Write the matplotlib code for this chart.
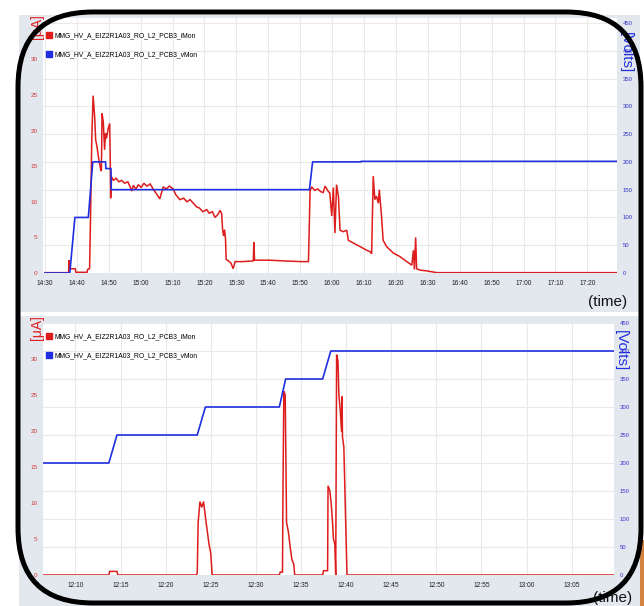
import matplotlib
matplotlib.use('Agg')
import matplotlib.pyplot as plt
import matplotlib.dates as mdates
from matplotlib.lines import Line2D
from matplotlib.patches import Rectangle, FancyBboxPatch
from matplotlib.ticker import FixedLocator
import numpy as np
import pandas as pd

W, H = 644, 606
plt.rcParams['font.family'] = ['Liberation Sans Narrow', 'Liberation Sans', 'DejaVu Sans']

i_name = 'MMG_HV_A_EIZ2R1A03_RO_L2_PCB3_iMon'
v_name = 'MMG_HV_A_EIZ2R1A03_RO_L2_PCB3_vMon'

# first ramp, minutes after 14:30
run1_base = '2023-05-10 14:30'
run1_range = [-0.6, 179.3]
run1_v_t = [0, 7.8, 9.4, 13.6, 15.0, 19.0, 19.1, 20.7, 20.8, 82.9, 83.9, 99.0, 99.1, 179.3]
run1_v = [0, 0, 100, 100, 200, 200, 188, 188, 150, 150, 200, 200, 201, 201]
run1_i_t = [0, 7.4, 7.6, 7.8, 9.5, 9.7, 13.2, 13.4, 14.0, 14.3, 14.7, 15.1, 15.6, 15.9,
            16.3, 16.9, 17.5, 17.7, 17.9, 18.3, 18.7, 19.0, 19.3, 19.8, 20.3, 20.5, 20.6,
            20.9, 21.5, 22.3, 23.2, 24.0, 25.0, 26.0, 26.6, 27.2, 27.7, 28.5, 29.3, 30.2,
            31.0, 32.0, 33.0, 33.9, 34.7, 35.3, 36.0, 36.5, 37.1, 38.0, 39.0, 40.2, 41.0,
            42.3, 43.5, 44.5, 45.5, 46.5, 47.5, 48.5, 49.5, 50.7, 51.5, 52.5, 53.3, 54.2,
            54.9, 55.4, 55.7, 56.0, 56.3, 56.6, 56.8, 57.5, 58.3, 59.0, 59.6, 62.0, 65.3,
            65.5, 65.7, 70.0, 75.0, 80.0, 82.6, 83.1, 83.6, 84.5, 85.5, 86.5, 87.2, 87.8,
            88.6, 89.3, 89.9, 90.4, 90.9, 91.4, 92.0, 92.5, 93.5, 94.6, 95.1, 96.7, 98.8,
            100.8, 101.9, 102.4, 102.9, 103.4, 103.9, 104.5, 104.8, 105.5, 106.0, 107.1,
            109.2, 111.3, 113.4, 115.0, 115.5, 115.8, 116.2, 116.5, 117.6, 119.6, 122.8,
            179.3]
run1_i = [0.05, 0.05, 1.8, 0.6, 0.6, 0.1, 0.1, 0.5, 0.6, 8.0, 19.0, 24.9, 21.9, 18.7,
          17.8, 15.9, 14.5, 14.3, 22.4, 21.2, 17.3, 19.6, 18.9, 20.2, 21.0, 15.0, 10.5,
          13.5, 13.0, 13.3, 12.8, 13.0, 12.6, 12.8, 12.2, 11.5, 12.3, 11.8, 12.4, 12.0,
          12.6, 12.2, 12.5, 11.8, 11.3, 10.9, 10.4, 11.2, 12.1, 11.8, 12.2, 11.8, 11.0,
          10.3, 10.5, 10.0, 10.3, 9.8, 9.3, 9.1, 8.6, 8.9, 8.4, 8.6, 7.8, 8.2,
          8.8, 8.3, 6.0, 5.2, 6.1, 4.8, 1.9, 1.7, 1.4, 0.6, 1.6, 1.6, 1.7,
          4.3, 1.8, 1.8, 1.7, 1.6, 1.6, 11.5, 12.1, 11.6, 11.8, 11.4, 11.3, 12.2,
          11.6, 11.2, 8.0, 12.0, 5.6, 12.4, 10.7, 6.0, 5.8, 6.0, 4.6, 4.2, 3.7,
          3.2, 3.0, 2.7, 13.6, 10.3, 10.8, 9.8, 11.7, 8.0, 4.6, 3.7,
          2.8, 2.3, 1.6, 1.1, 3.2, 0.5, 5.0, 0.6, 0.4, 0.3, 0.05,
          0.05]

# second ramp, minutes after 12:00
run2_base = '2023-05-11 12:00'
run2_range = [6.4, 69.7]
run2_v_t = [6.4, 13.7, 14.6, 23.5, 24.4, 32.6, 33.3, 37.4, 38.3, 69.7]
run2_v = [200, 200, 250, 250, 300, 300, 350, 350, 400, 400]
run2_i_t = [6.4, 13.7, 13.8, 14.6, 14.7, 23.4, 23.5, 23.6, 23.8, 24.0, 24.2, 24.4, 24.6,
            24.8, 25.0, 25.15, 32.6, 32.7, 32.95, 33.0, 33.1, 33.25, 33.4, 33.6, 33.8,
            34.0, 34.2, 34.3, 37.4, 37.5, 37.95, 38.0, 38.2, 38.35, 38.5, 38.6, 38.75,
            38.85, 38.95, 39.1, 39.2, 39.35, 39.5, 39.55, 39.6, 39.75, 40.1, 69.7]
run2_i = [0, 0, 0.5, 0.5, 0, 0, 0.3, 7.3, 10.2, 9.4, 10.2, 8.1, 6.2,
          4.3, 3.0, 0, 0, 0.4, 0.4, 11.3, 25.5, 25.0, 7.3, 6.0, 3.9,
          2.1, 1.5, 0, 0, 0.6, 0.6, 12.4, 11.7, 9.9, 7.3, 5.0, 4.3,
          0, 30.6, 29.7, 25.0, 22.9, 19.9, 24.8, 19.2, 17.8, 0, 0]

i_ticks = [0, 5, 10, 15, 20, 25, 30]
v_ticks = [0, 50, 100, 150, 200, 250, 300, 350, 400, 450]

RED = '#dd1c1c'
BLUE = '#1f2ee0'
PANEL = '#e3e7ee'
GRID = '#e9e9e9'


def px_box(x0, y0, x1, y1):
    return [x0 / W, 1 - y1 / H, (x1 - x0) / W, (y1 - y0) / H]


def stamp(base, minutes):
    return (pd.Timestamp(base) + pd.to_timedelta(minutes, unit='min')).to_numpy()


def draw_panel(fig, box, base, t_range, i_t, i_vals, v_t, v_vals, i_top, v_top, step, legend_y):
    ax = fig.add_axes(px_box(*box), zorder=1)
    ax2 = ax.twinx()
    ax2.set_zorder(2)
    ax2.patch.set_visible(False)

    ax.plot(stamp(base, i_t), i_vals, color=RED, lw=1.1, solid_joinstyle='miter')
    ax2.plot(stamp(base, v_t), v_vals, color=BLUE, lw=1.2)

    ax.set_xlim(stamp(base, t_range))
    ax.set_ylim(0, i_top)
    ax2.set_ylim(0, v_top)
    ax.set_yticks(i_ticks)
    ax2.set_yticks(v_ticks)
    ax.yaxis.set_minor_locator(FixedLocator(np.array(v_ticks) * i_top / v_top))
    ax.xaxis.set_major_locator(mdates.MinuteLocator(byminute=range(0, 60, step)))
    ax.xaxis.set_major_formatter(mdates.DateFormatter('%H:%M'))

    ax.grid(axis='x', which='major', color=GRID, lw=0.8)
    ax.grid(axis='y', which='minor', color=GRID, lw=0.8)
    ax.tick_params(axis='y', which='both', length=0, pad=4, labelsize=4.6, labelcolor='#d03a3a')
    ax.tick_params(axis='x', length=0, pad=5, labelsize=4.8, labelcolor='#222222')
    ax2.tick_params(axis='y', length=0, pad=4, labelsize=4.3, labelcolor='#3535cc')
    for a in (ax, ax2):
        for s in a.spines.values():
            s.set_visible(False)

    handles = [Line2D([], [], ls='none', marker='s', ms=4.3, color=RED),
               Line2D([], [], ls='none', marker='s', ms=4.3, color=BLUE)]
    ax2.legend(handles, [i_name, v_name], loc='upper left',
               bbox_to_anchor=(47 / W, 1 - legend_y / H), bbox_transform=fig.transFigure,
               frameon=False, fontsize=4.9, handlelength=0.7, handletextpad=0.4,
               labelspacing=1.75, borderpad=0, borderaxespad=0)
    return ax


fig = plt.figure(figsize=(W / 100, H / 100), dpi=100)

bg = fig.add_axes([0, 0, 1, 1], zorder=0)
bg.set_xlim(0, W)
bg.set_ylim(H, 0)
bg.axis('off')
bg.add_patch(Rectangle((19, 15), 621, 297, color=PANEL, lw=0))
bg.add_patch(Rectangle((19, 316), 621, 290, color=PANEL, lw=0))
bg.add_patch(Rectangle((640, 540), 4, 66, color='#d4843e', lw=0))

draw_panel(fig, (43, 18, 617, 273), run1_base, run1_range, run1_i_t, run1_i,
           run1_v_t, run1_v, 35.8, 459, 10, 32)
draw_panel(fig, (43, 323, 614, 575), run2_base, run2_range, run2_i_t, run2_i,
           run2_v_t, run2_v, 35.0, 450, 5, 333)

# axis captions
for y in (27, 328):
    fig.text(37 / W, 1 - y / H, '[\u03bcA]', color='#e02020', fontsize=10,
             family=['Liberation Sans', 'DejaVu Sans'], rotation=90, ha='center', va='center')
for x, y in ((626, 53), (621, 351)):
    fig.text(x / W, 1 - y / H, '[Volts]', color='#2030e0', fontsize=11,
             family=['Liberation Sans', 'DejaVu Sans'], rotation=270, ha='center', va='center')
for x, y in ((608, 302), (613, 598)):
    fig.text(x / W, 1 - y / H, '(time)', color='#111111', fontsize=11,
             family=['Liberation Sans', 'DejaVu Sans'], ha='center', va='center')

# rounded outline drawn over both charts
top = fig.add_axes([0, 0, 1, 1], zorder=10)
top.set_xlim(0, W)
top.set_ylim(H, 0)
top.axis('off')
top.patch.set_visible(False)
top.add_patch(FancyBboxPatch((18, 12), 623, 591, boxstyle='round,pad=0,rounding_size=75',
                             fill=False, ec='black', lw=3.6))

fig.savefig('out.png', dpi=100)
